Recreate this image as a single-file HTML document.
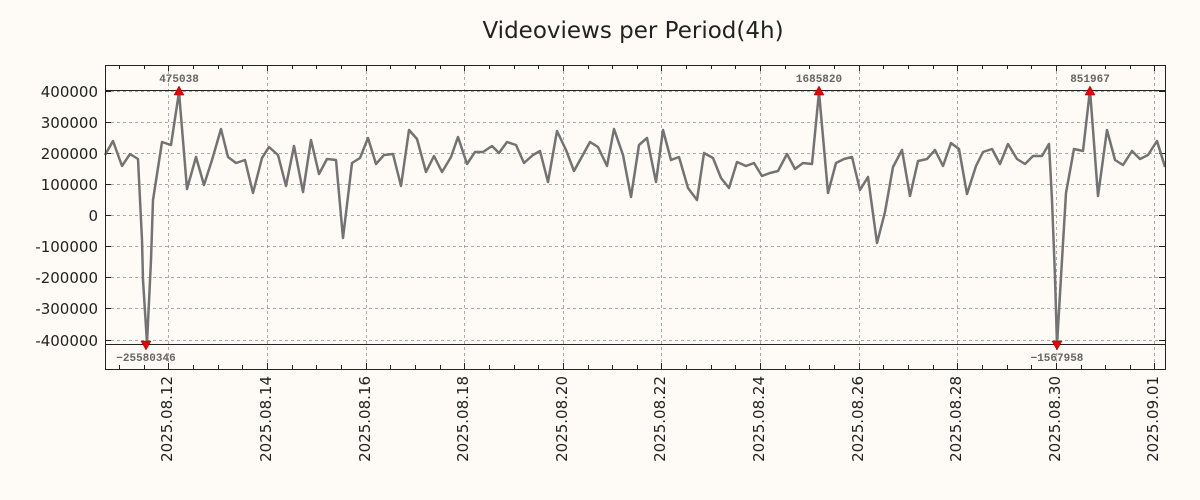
<!DOCTYPE html>
<html><head><meta charset="utf-8"><style>body{margin:0;background:#fefaf6}svg{display:block}</style></head><body>
<svg width="1200" height="500" xmlns="http://www.w3.org/2000/svg" font-family="DejaVu Sans, sans-serif">
<rect width="1200" height="500" fill="#fefaf6"/>
<text x="633" y="38" font-size="23" text-anchor="middle" fill="#222">Videoviews per Period(4h)</text>
<g stroke="#aaa" stroke-dasharray="3,3" stroke-width="1">
<line x1="105" x2="1165" y1="91.5" y2="91.5"/><line x1="105" x2="1165" y1="122.5" y2="122.5"/><line x1="105" x2="1165" y1="153.5" y2="153.5"/><line x1="105" x2="1165" y1="184.5" y2="184.5"/><line x1="105" x2="1165" y1="215.5" y2="215.5"/><line x1="105" x2="1165" y1="246.5" y2="246.5"/><line x1="105" x2="1165" y1="277.5" y2="277.5"/><line x1="105" x2="1165" y1="308.5" y2="308.5"/><line x1="105" x2="1165" y1="340.5" y2="340.5"/>
<line y1="65" y2="369" x1="168.5" x2="168.5"/><line y1="65" y2="369" x1="267.5" x2="267.5"/><line y1="65" y2="369" x1="366.5" x2="366.5"/><line y1="65" y2="369" x1="464.5" x2="464.5"/><line y1="65" y2="369" x1="563.5" x2="563.5"/><line y1="65" y2="369" x1="661.5" x2="661.5"/><line y1="65" y2="369" x1="760.5" x2="760.5"/><line y1="65" y2="369" x1="859.5" x2="859.5"/><line y1="65" y2="369" x1="957.5" x2="957.5"/><line y1="65" y2="369" x1="1056.5" x2="1056.5"/><line y1="65" y2="369" x1="1154.5" x2="1154.5"/>
</g>
<g stroke="#222" stroke-width="1">
<path d="M119.5,65v4M144.5,65v4M168.5,65v6M193.5,65v4M218.5,65v4M242.5,65v4M267.5,65v6M292.5,65v4M316.5,65v4M341.5,65v4M366.5,65v6M390.5,65v4M415.5,65v4M440.5,65v4M464.5,65v6M489.5,65v4M514.5,65v4M538.5,65v4M563.5,65v6M588.5,65v4M612.5,65v4M637.5,65v4M661.5,65v6M686.5,65v4M711.5,65v4M735.5,65v4M760.5,65v6M785.5,65v4M809.5,65v4M834.5,65v4M859.5,65v6M883.5,65v4M908.5,65v4M933.5,65v4M957.5,65v6M982.5,65v4M1007.5,65v4M1031.5,65v4M1056.5,65v6M1081.5,65v4M1105.5,65v4M1130.5,65v4M1154.5,65v6"/>
<path d="M119.5,369v-4M144.5,369v-4M168.5,369v-6M193.5,369v-4M218.5,369v-4M242.5,369v-4M267.5,369v-6M292.5,369v-4M316.5,369v-4M341.5,369v-4M366.5,369v-6M390.5,369v-4M415.5,369v-4M440.5,369v-4M464.5,369v-6M489.5,369v-4M514.5,369v-4M538.5,369v-4M563.5,369v-6M588.5,369v-4M612.5,369v-4M637.5,369v-4M661.5,369v-6M686.5,369v-4M711.5,369v-4M735.5,369v-4M760.5,369v-6M785.5,369v-4M809.5,369v-4M834.5,369v-4M859.5,369v-6M883.5,369v-4M908.5,369v-4M933.5,369v-4M957.5,369v-6M982.5,369v-4M1007.5,369v-4M1031.5,369v-4M1056.5,369v-6M1081.5,369v-4M1105.5,369v-4M1130.5,369v-4M1154.5,369v-6"/>
<path d="M105,91.5h6M105,122.5h6M105,153.5h6M105,184.5h6M105,215.5h6M105,246.5h6M105,277.5h6M105,308.5h6M105,340.5h6M1165,91.5h-6M1165,122.5h-6M1165,153.5h-6M1165,184.5h-6M1165,215.5h-6M1165,246.5h-6M1165,277.5h-6M1165,308.5h-6M1165,340.5h-6"/>
</g>
<line x1="105" x2="1165" y1="90.5" y2="90.5" stroke="#222"/>
<line x1="105" x2="1165" y1="344.5" y2="344.5" stroke="#222"/>
<polyline fill="none" stroke="#737373" stroke-width="2.5" stroke-linejoin="round" points="105,155 113,141 122,166 130,154 138,159 142,240 143,280 147,343 151,260 153,200 162,142 171,145 179,92 187,189 196,157 204,185 212,160 221,129 228,157 236,163 245,160 253,193 262,158 269,147 278,155 286,186 294,146 303,192 311,140 319,174 327,159 336,160 343,238 352,163 360,158 368,138 376,164 384,155 393,154 401,186 409,130 417,139 426,172 434,156 442,172 451,157 458,137 467,164 475,152 483,152 492,146 499,153 507,142 516,145 524,163 533,155 540,151 548,182 557,131 566,150 574,171 590,142 598,147 607,166 614,129 623,155 631,197 639,145 647,138 656,182 663,130 671,160 679,157 688,188 697,200 704,153 713,158 721,178 729,188 737,162 746,166 754,163 762,176 770,173 778,171 787,154 795,169 803,163 812,164 819,92 828,193 836,163 844,159 852,157 860,190 868,177 877,243 885,212 893,167 902,150 910,196 918,161 927,159 935,150 943,166 951,143 959,149 967,194 976,166 983,152 992,149 1000,164 1008,144 1017,159 1025,164 1033,156 1042,156 1049,144 1052,200 1055,277 1057,345 1062,260 1066,193 1074,149 1083,151 1090,90 1098,196 1107,130 1115,160 1123,165 1132,151 1140,159 1148,155 1157,141 1165,167"/>
<g fill="#e00" stroke="#900" stroke-width="0.5">
<polygon points="174,95 184,95 179,86"/><polygon points="814,95 824,95 819,86"/><polygon points="1085,95 1095,95 1090,86"/>
<polygon points="141,341 151,341 146,350"/><polygon points="1052,341 1062,341 1057,350"/>
</g>
<g font-family="Liberation Mono, monospace" font-size="11" font-weight="bold" fill="#666" text-anchor="middle">
<text x="179" y="82">475038</text><text x="819" y="82">1685820</text><text x="1090" y="82">851967</text>
<text x="146" y="361">−25580346</text><text x="1057" y="361">−1567958</text>
</g>
<rect x="105.5" y="65.5" width="1060" height="304" fill="none" stroke="#222"/>
<g font-size="15" fill="#222" text-anchor="end">
<text x="98" y="97">400000</text><text x="98" y="128">300000</text><text x="98" y="159">200000</text><text x="98" y="190">100000</text><text x="98" y="221">0</text><text x="98" y="252">-100000</text><text x="98" y="283">-200000</text><text x="98" y="314">-300000</text><text x="98" y="346">-400000</text>
</g>
<g font-size="15" fill="#222" text-anchor="end">
<text transform="translate(172,376) rotate(-90)">2025.08.12</text>
<text transform="translate(271,376) rotate(-90)">2025.08.14</text>
<text transform="translate(370,376) rotate(-90)">2025.08.16</text>
<text transform="translate(468,376) rotate(-90)">2025.08.18</text>
<text transform="translate(567,376) rotate(-90)">2025.08.20</text>
<text transform="translate(665,376) rotate(-90)">2025.08.22</text>
<text transform="translate(764,376) rotate(-90)">2025.08.24</text>
<text transform="translate(863,376) rotate(-90)">2025.08.26</text>
<text transform="translate(961,376) rotate(-90)">2025.08.28</text>
<text transform="translate(1060,376) rotate(-90)">2025.08.30</text>
<text transform="translate(1158,376) rotate(-90)">2025.09.01</text>
</g>
</svg>
</body></html>
